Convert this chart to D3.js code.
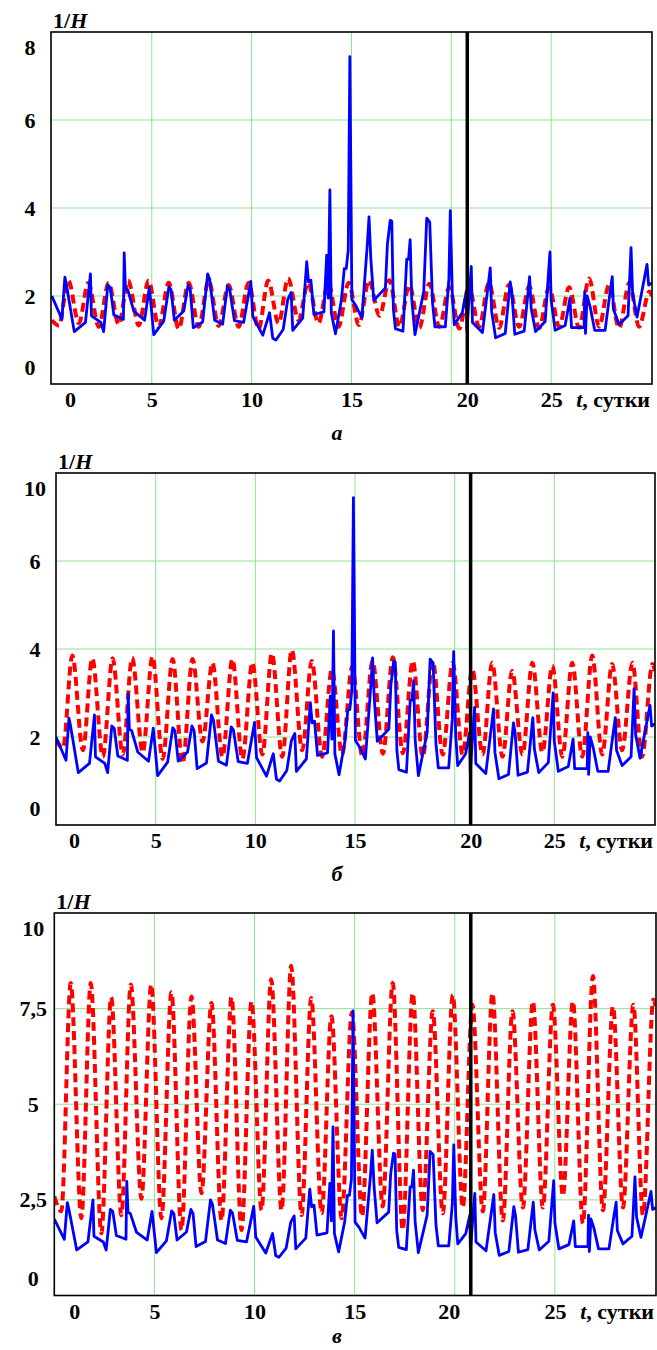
<!DOCTYPE html>
<html>
<head>
<meta charset="utf-8">
<script src="https://d3js.org/d3.v7.min.js"></script>
<style>
  body { margin: 0; background: #fff; }
  text { font-family: "Liberation Serif", "Times New Roman", serif; font-weight: bold; font-size: 22px; fill: #000; }
</style>
</head>
<body>
<svg id="drawing_region"></svg>
<script>
// observed 1/H (same in all three panels): [day, value]
const observed = [
  [0,2.00],[0.5,1.47],[0.65,2.43],[0.72,2.28],[1.12,1.19],[1.68,1.40],[1.93,2.50],[1.98,1.55],
  [2.45,1.40],[2.59,1.19],[2.8,2.25],[2.92,2.20],[3.1,1.57],[3.58,1.47],[3.62,2.98],[3.68,2.18],
  [3.8,2.14],[4.1,1.66],[4.64,1.45],[4.88,2.20],[5.1,1.12],[5.6,1.43],[5.86,2.21],[5.97,2.14],
  [6.13,1.45],[6.6,1.66],[6.82,2.25],[6.93,2.14],[7.08,1.28],[7.55,1.41],[7.8,2.50],[7.9,2.38],
  [8.15,1.45],[8.55,1.36],[8.79,2.23],[8.9,2.16],[9.14,1.44],[9.6,1.40],[9.96,2.33],[10.06,1.53],
  [10.56,1.11],[10.9,1.62],[11.06,1.04],[11.22,1.00],[11.58,1.24],[11.81,1.92],[11.98,2.08],[12.06,1.22],
  [12.56,1.50],[12.76,2.78],[12.85,2.32],[12.97,2.36],[13.12,1.58],[13.62,1.64],[13.76,2.93],[13.84,1.95],
  [13.92,4.41],[13.99,1.62],[14.2,1.14],[14.5,1.92],[14.64,2.62],[14.74,2.62],[14.84,3.05],[14.92,7.44],
  [14.97,4.80],[15.02,1.92],[15.22,1.78],[15.52,1.50],[15.8,3.20],[15.88,3.80],[15.97,2.85],[16.12,1.90],
  [16.7,2.18],[16.8,3.18],[16.94,3.72],[17.02,3.70],[17.1,1.70],[17.2,1.26],[17.58,1.20],[17.77,2.84],
  [17.86,2.84],[17.94,3.28],[18.02,1.93],[18.18,1.12],[18.62,2.10],[18.77,3.77],[18.92,3.68],[19.06,1.85],
  [19.18,1.30],[19.7,1.30],[19.88,2.40],[19.95,3.94],[20.05,2.06],[20.15,1.35],[20.55,1.62],[20.75,2.10],
  [20.78,1.20],[21.0,2.67],[21.06,1.40],[21.56,1.17],[21.95,2.64],[22.02,1.65],[22.22,1.05],[22.7,1.15],
  [22.95,2.32],[23.03,2.10],[23.18,1.13],[23.65,1.20],[23.92,2.44],[24.0,1.72],[24.22,1.19],[24.7,1.42],
  [24.94,3.00],[25.0,1.90],[25.2,1.22],[25.7,1.33],[25.94,1.95],[26.02,1.28],[26.65,1.28],[26.68,2.10],
  [26.72,1.15],[26.8,2.00],[26.95,1.76],[27.18,1.22],[27.7,1.22],[27.93,2.02],[28.06,2.44],[28.12,1.70],
  [28.4,1.35],[28.85,1.55],[29.0,3.10],[29.08,2.05],[29.3,1.52],[29.8,2.72],[29.88,2.25],[30.05,2.30]
];

// model curves: daily troughs and peaks
const troughDays = [0.35,1.35,2.35,3.35,4.35,5.35,6.35,7.35,8.35,9.35,10.35,11.35,12.35,13.35,14.35,
  15.37,16.4,17.4,18.4,19.4,20.4,21.4,22.4,23.4,24.4,25.4,26.4,27.4,28.4,29.4];
const peakDays = [0.82,1.82,2.84,3.82,4.84,5.85,6.85,7.85,8.85,9.85,10.83,11.83,12.83,13.84,14.86,
  15.88,16.9,17.9,18.9,19.9,20.88,21.88,22.88,23.9,24.9,25.9,26.9,27.9,28.92,29.92];

const modelA_troughs = [1.33,1.38,1.30,1.35,1.33,1.30,1.25,1.30,1.32,1.30,1.25,1.38,1.45,1.38,1.30,
  1.34,1.55,1.30,1.28,1.30,1.26,1.30,1.28,1.30,1.27,1.30,1.28,1.30,1.27,1.30];
const modelA_peaks = [2.35,2.30,2.30,2.35,2.35,2.30,2.30,2.35,2.25,2.30,2.35,2.40,2.30,2.30,2.30,
  2.36,2.36,2.25,2.28,2.20,2.20,2.30,2.25,2.22,2.20,2.20,2.40,2.25,2.30,2.10];
const modelA_ends = [1.45, 2.00];

const modelB_troughs = [1.75,1.70,1.55,1.60,1.65,1.50,1.40,1.90,1.55,1.50,1.60,1.55,1.70,1.55,1.60,
  1.56,1.62,1.63,1.55,1.60,1.60,1.60,1.55,1.60,1.65,1.55,1.55,1.60,1.70,1.55];
const modelB_peaks = [3.85,3.79,3.79,3.80,3.83,3.77,3.77,3.69,3.77,3.69,3.90,3.98,3.73,3.54,3.60,
  3.73,3.81,3.73,3.73,3.69,3.54,3.69,3.50,3.69,3.62,3.69,3.85,3.66,3.69,3.66];
const modelB_ends = [1.94, 3.50];

const modelC_troughs = [2.20,2.02,1.63,2.10,2.53,2.02,1.71,2.67,1.96,1.71,2.23,2.23,2.10,2.15,2.02,
  2.07,2.33,1.71,2.23,2.15,2.30,2.20,1.96,2.30,2.30,2.60,1.88,2.23,2.30,2.10];
const modelC_peaks = [8.17,8.17,7.80,8.13,8.13,7.93,7.82,7.65,7.80,7.69,8.27,8.62,7.78,7.30,7.40,
  7.91,8.17,7.91,7.43,7.86,7.60,7.91,7.43,7.69,7.60,7.69,8.35,7.56,7.60,7.74];
const modelC_ends = [2.59, 7.50];

// axis ticks
const xGridDays = [5, 10, 15, 20, 25];
const xTickDays = [0, 5, 10, 15, 20, 25];
const yTicksA = [0, 2, 4, 6, 8];
const yLabelsA = ['0', '2', '4', '6', '8'];
const yTicksB = [0, 2, 4, 6, 8];
const yLabelsB = ['0', '2', '4', '6', '10'];
const yTicksC = [0, 2.5, 5, 7.5, 10];
const yLabelsC = ['0', '2,5', '5', '7,5', '10'];
const markDay = 20.8;

function buildModel(troughs, peaks, ends) {
  let pts = [[0, ends[0]]];
  troughDays.forEach((d, i) => {
    pts.push([d, troughs[i]]);
    pts.push([peakDays[i], peaks[i]]);
  });
  pts.push([30.05, ends[1]]);
  return pts;
}

class PanelChart {

  constructor( config, data ) {
    this.config = config;
    this.data = data;
    this.init();
  }

  init() {
    let self = this;
    let c = self.config;

    self.chart = d3.select( c.parent ).append('g')
      .attr('transform', `translate(${c.left}, ${c.top})`);

    self.width = c.right - c.left;
    self.height = c.bottom - c.top;

    self.x_scale = d3.scaleLinear()
      .domain( [0, 30.05] )
      .range( [c.xOffset, self.width] );

    self.y_scale = d3.scaleLinear()
      .domain( [0, c.yTicks[c.yTicks.length - 1]] )
      .range( [self.height, 0] );

    self.chart.append('clipPath')
      .attr('id', 'clip_' + c.id)
      .append('rect')
      .attr('width', self.width)
      .attr('height', self.height);
  }

  render() {
    let self = this;
    let c = self.config;
    let yMax = c.yTicks[c.yTicks.length - 1];

    // grid
    self.chart.selectAll('.hgrid')
      .data( c.yTicks.slice(1, -1) )
      .enter()
      .append('line')
      .attr('x1', 0).attr('x2', self.width)
      .attr('y1', d => self.y_scale(d)).attr('y2', d => self.y_scale(d))
      .attr('stroke', '#8fe38f').attr('stroke-width', 1);

    self.chart.selectAll('.vgrid')
      .data( xGridDays )
      .enter()
      .append('line')
      .attr('x1', d => self.x_scale(d)).attr('x2', d => self.x_scale(d))
      .attr('y1', 0).attr('y2', self.height)
      .attr('stroke', '#8fe38f').attr('stroke-width', 1);

    const line = d3.line()
      .x(d => self.x_scale(d[0]))
      .y(d => self.y_scale(d[1]));

    const plot = self.chart.append('g').attr('clip-path', `url(#clip_${c.id})`);

    plot.append('path')
      .datum( self.data.model )
      .attr('d', line.curve(d3.curveMonotoneX))
      .attr('fill', 'none')
      .attr('stroke', '#ff0000')
      .attr('stroke-width', 4)
      .attr('stroke-dasharray', '9,5');

    plot.append('path')
      .datum( self.data.observed )
      .attr('d', line.curve(d3.curveLinear))
      .attr('fill', 'none')
      .attr('stroke', '#0000ff')
      .attr('stroke-width', 2.8)
      .attr('stroke-linejoin', 'round');

    // vertical marker
    self.chart.append('line')
      .attr('x1', self.x_scale(markDay)).attr('x2', self.x_scale(markDay))
      .attr('y1', 0).attr('y2', self.height)
      .attr('stroke', '#000').attr('stroke-width', 3.5);

    // frame
    self.chart.append('rect')
      .attr('width', self.width).attr('height', self.height)
      .attr('fill', 'none').attr('stroke', '#000').attr('stroke-width', 1.6);

    // axes
    self.chart.append('g')
      .attr('transform', `translate(0, ${self.height})`)
      .call( d3.axisBottom(self.x_scale).tickValues(xTickDays).tickSize(0).tickPadding(7.5) )
      .call( g => g.select('.domain').remove() )
      .selectAll('text')
      .attr('dx', d => c.xNudge[d] || 0);

    self.chart.append('g')
      .call( d3.axisLeft(self.y_scale).tickValues(c.yTicks)
        .tickFormat((d, i) => c.yLabels[i]).tickSize(0) )
      .call( g => g.select('.domain').remove() )
      .selectAll('text')
      .attr('text-anchor', 'middle')
      .attr('x', -21)
      .attr('y', d => d === yMax ? 15 : (d === 0 ? -17 : 0));

    // labels
    let title = self.chart.append('text')
      .attr('x', 2).attr('y', -4);
    title.append('tspan').text('1/');
    title.append('tspan').attr('font-style', 'italic').text('H');

    let xlab = self.chart.append('text')
      .attr('x', self.width - 2).attr('y', self.height + 23)
      .attr('text-anchor', 'end');
    xlab.append('tspan').attr('font-style', 'italic').text('t');
    xlab.append('tspan').text(', сутки');

    self.chart.append('text')
      .attr('x', 337 - c.left).attr('y', self.height + c.letterGap)
      .attr('text-anchor', 'middle')
      .attr('font-style', 'italic')
      .text(c.letter);
  }
}

d3.select('#drawing_region')
  .attr('width', 657)
  .attr('height', 1350);

const panels = [
  { id: 'a', letter: 'а', letterGap: 56, left: 51, top: 32, right: 652, bottom: 384, xOffset: 0.9,
    yTicks: yTicksA, yLabels: yLabelsA, xNudge: {0: 18, 20: 16},
    model: buildModel(modelA_troughs, modelA_peaks, modelA_ends) },
  { id: 'b', letter: 'б', letterGap: 56, left: 56, top: 473, right: 655, bottom: 825, xOffset: 0,
    yTicks: yTicksB, yLabels: yLabelsB, xNudge: {0: 18, 20: 16},
    model: buildModel(modelB_troughs, modelB_peaks, modelB_ends) },
  { id: 'c', letter: 'в', letterGap: 47, left: 54.3, top: 913, right: 656, bottom: 1295.5, xOffset: 0,
    yTicks: yTicksC, yLabels: yLabelsC, xNudge: {0: 20, 20: -6},
    model: buildModel(modelC_troughs, modelC_peaks, modelC_ends) }
];

panels.forEach( p => {
  p.parent = '#drawing_region';
  const chart = new PanelChart( p, { observed: observed, model: p.model } );
  chart.render();
});
</script>
</body>
</html>
